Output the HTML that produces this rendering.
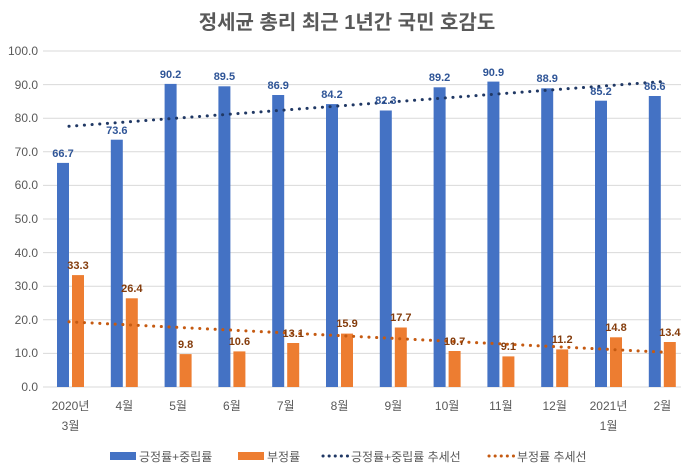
<!DOCTYPE html><html><head><meta charset="utf-8"><style>body{margin:0;background:#fff}svg{display:block}text{font-family:"Liberation Sans","Noto Sans CJK KR",sans-serif}</style></head><body>
<svg width="695" height="473" viewBox="0 0 695 473" xmlns="http://www.w3.org/2000/svg">
<text x="347" y="29" text-anchor="middle" font-size="20" font-weight="bold" fill="#595959">정세균 총리 최근 1년간 국민 호감도</text>
<g stroke="#d9d9d9" stroke-width="1">
<line x1="43" y1="51" x2="681" y2="51"/><line x1="43" y1="84.6" x2="681" y2="84.6"/><line x1="43" y1="118.2" x2="681" y2="118.2"/><line x1="43" y1="151.8" x2="681" y2="151.8"/><line x1="43" y1="185.4" x2="681" y2="185.4"/><line x1="43" y1="219" x2="681" y2="219"/><line x1="43" y1="252.6" x2="681" y2="252.6"/><line x1="43" y1="286.2" x2="681" y2="286.2"/><line x1="43" y1="319.8" x2="681" y2="319.8"/><line x1="43" y1="353.4" x2="681" y2="353.4"/><line x1="43" y1="387" x2="681" y2="387"/>
</g>
<g font-size="12" fill="#595959" text-anchor="end">
<text x="38" y="55">100.0</text><text x="38" y="89">90.0</text><text x="38" y="122">80.0</text><text x="38" y="156">70.0</text><text x="38" y="189">60.0</text><text x="38" y="223">50.0</text><text x="38" y="257">40.0</text><text x="38" y="290">30.0</text><text x="38" y="324">20.0</text><text x="38" y="357">10.0</text><text x="38" y="391">0.0</text>
</g>
<g fill="#4472c4">
<rect x="57" y="162.9" width="12" height="224.1"/><rect x="110.8" y="139.7" width="12" height="247.3"/><rect x="164.6" y="83.9" width="12" height="303.1"/><rect x="218.4" y="86.3" width="12" height="300.7"/><rect x="272.2" y="95" width="12" height="292"/><rect x="326" y="104.1" width="12" height="282.9"/><rect x="379.8" y="110.5" width="12" height="276.5"/><rect x="433.6" y="87.3" width="12" height="299.7"/><rect x="487.4" y="81.6" width="12" height="305.4"/><rect x="541.2" y="88.3" width="12" height="298.7"/><rect x="595" y="100.7" width="12" height="286.3"/><rect x="648.8" y="96" width="12" height="291"/>
</g>
<g fill="#ed7d31">
<rect x="72" y="275.1" width="12" height="111.9"/><rect x="125.8" y="298.3" width="12" height="88.7"/><rect x="179.6" y="354.1" width="12" height="32.9"/><rect x="233.4" y="351.4" width="12" height="35.6"/><rect x="287.2" y="343" width="12" height="44"/><rect x="341" y="333.6" width="12" height="53.4"/><rect x="394.8" y="327.5" width="12" height="59.5"/><rect x="448.6" y="351" width="12" height="36"/><rect x="502.4" y="356.4" width="12" height="30.6"/><rect x="556.2" y="349.4" width="12" height="37.6"/><rect x="610" y="337.3" width="12" height="49.7"/><rect x="663.8" y="342" width="12" height="45"/>
</g>
<line x1="69" y1="126.3" x2="662" y2="81.6" stroke="#203864" stroke-width="3" stroke-linecap="round" stroke-dasharray="0.1 7.6"/>
<line x1="69" y1="321.8" x2="662" y2="352.1" stroke="#c55a11" stroke-width="3" stroke-linecap="round" stroke-dasharray="0.1 7.6"/>
<g font-size="11" font-weight="bold" fill="#2f5597" text-anchor="middle">
<text x="63" y="157">66.7</text><text x="116.8" y="134">73.6</text><text x="170.6" y="78">90.2</text><text x="224.4" y="80">89.5</text><text x="278.2" y="89">86.9</text><text x="332" y="98">84.2</text><text x="385.8" y="104">82.3</text><text x="439.6" y="81">89.2</text><text x="493.4" y="76">90.9</text><text x="547.2" y="82">88.9</text><text x="601" y="95">85.2</text><text x="654.8" y="90">86.6</text>
</g>
<g font-size="11" font-weight="bold" fill="#843c0c" text-anchor="middle">
<text x="78" y="269">33.3</text><text x="131.8" y="292">26.4</text><text x="185.6" y="348">9.8</text><text x="239.4" y="345">10.6</text><text x="293.2" y="337">13.1</text><text x="347" y="327">15.9</text><text x="400.8" y="321">17.7</text><text x="454.6" y="345">10.7</text><text x="508.4" y="350">9.1</text><text x="562.2" y="343">11.2</text><text x="616" y="331">14.8</text><text x="669.8" y="336">13.4</text>
</g>
<g font-size="12" fill="#595959" text-anchor="middle">
<text x="70.5" y="410">2020년</text><text x="70.5" y="430">3월</text><text x="124.3" y="410">4월</text><text x="178.1" y="410">5월</text><text x="231.9" y="410">6월</text><text x="285.7" y="410">7월</text><text x="339.5" y="410">8월</text><text x="393.3" y="410">9월</text><text x="447.1" y="410">10월</text><text x="500.9" y="410">11월</text><text x="554.7" y="410">12월</text><text x="608.5" y="410">2021년</text><text x="608.5" y="430">1월</text><text x="662.3" y="410">2월</text>
</g>
<g font-size="12" fill="#595959">
<rect x="110" y="452" width="26" height="8" fill="#4472c4"/><text x="139" y="461">긍정률+중립률</text>
<rect x="238" y="452" width="26" height="8" fill="#ed7d31"/><text x="267" y="461">부정률</text>
<line x1="323" y1="456" x2="348" y2="456" stroke="#203864" stroke-width="3" stroke-linecap="round" stroke-dasharray="0.1 6"/><text x="351" y="461">긍정률+중립률 추세선</text>
<line x1="489" y1="456" x2="514" y2="456" stroke="#c55a11" stroke-width="3" stroke-linecap="round" stroke-dasharray="0.1 6"/><text x="517" y="461">부정률 추세선</text>
</g>
</svg></body></html>
